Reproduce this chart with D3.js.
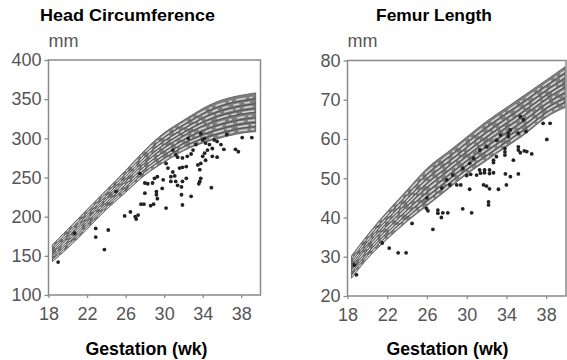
<!DOCTYPE html>
<html>
<head>
<meta charset="utf-8">
<script src="https://cdn.jsdelivr.net/npm/d3@7"></script>
<style>
  body { margin: 0; background: #fff; }
  svg { display: block; }
  text { font-family: "Liberation Sans", Arial, Helvetica, sans-serif; }
</style>
</head>
<body>
<div id="chart"></div>
<script>
// tick labels
const weekTicks = [18, 22, 26, 30, 34, 38];
const hcTicks = [100, 150, 200, 250, 300, 350, 400];
const flTicks = [20, 30, 40, 50, 60, 70, 80];

// head circumference reference band (mm)
const hcBandWeeks = [18.4, 20, 22, 24, 26, 28, 30, 32, 34, 36, 38, 39.5];
const hcUpper = [164, 184, 209, 234, 259, 285, 307, 323, 338, 349, 355, 358];
const hcLower = [142.5, 160, 184, 209, 231, 253, 269.5, 284, 294, 301, 306.5, 308.5];

// head circumference measurements [week, mm]
const hcPoints = [
  [19.0,142],[22.9,185],[24.2,183],[22.9,174],[23.8,158],[25.9,201],[26.5,206],[27.0,200],
  [27.3,202],[27.1,197],[27.6,216],[27.9,216],[28.6,214],[28.9,216],[28.0,230],[29.2,232],
  [29.2,228],[29.3,223],[30.2,211],[29.9,247],[29.8,236],[28.0,243],[28.3,242],[28.8,243],
  [29.0,249],[29.3,251],[30.7,251],[31.1,252],[31.2,245],[31.4,240],[31.8,238],[31.9,245],
  [30.9,257],[31.6,262],[31.9,263],[32.3,264],[31.8,228],[31.9,215],[32.8,226],[33.7,245],
  [33.6,242],[33.8,249],[33.5,266],[33.8,268],[33.7,260],[34.0,277],[34.2,281],[34.3,272],
  [34.5,285],[34.9,237],[35.0,287],[35.0,277],[35.5,276],[34.0,298],[34.2,300],[34.3,294],
  [34.7,292],[35.2,298],[35.5,296],[35.9,292],[36.2,286],[37.4,286],[37.7,283],[38.1,301],
  [39.1,301],[31.4,276],[31.9,275],[32.4,277],[32.8,280],[30.9,285],[31.2,279],[30.2,268],
  [30.4,262],[32.3,249],[33.3,292],[33.0,285],[30.7,245],[20.7,179],[25.0,232],[27.5,255],
  [32.5,300],[33.8,306],[36.5,305]
];

// femur length reference band (mm)
const flBandWeeks = [18.4, 20, 22, 24, 26, 28, 30, 32, 34, 36, 38, 39.9];
const flUpper = [30.2, 35.5, 41.5, 47, 52.5, 56.5, 60.5, 64.5, 68, 71.5, 75, 78.4];
const flLower = [24.5, 29.5, 34.5, 39, 43, 47, 51, 54.5, 58, 61.5, 65.5, 68];

// femur length measurements [week, mm]
const flPoints = [
  [18.9,25.4],[18.7,27.9],[22.2,32.2],[23.1,31.0],[23.9,31.0],[26.6,37.0],[25.95,42.3],[26.1,41.7],
  [27.1,41.9],[27.1,41.1],[27.6,41.2],[28.1,41.2],[27.45,40.0],[29.6,42.2],[30.5,41.2],[32.2,44.0],
  [32.2,43.2],[29.0,48.3],[29.4,48.3],[28.3,48.3],[30.3,47.2],[31.7,48.3],[32.0,48.0],[32.3,47.3],
  [33.2,47.2],[34.0,48.3],[30.0,50.7],[30.4,51.0],[31.0,50.8],[31.4,51.3],[31.8,51.4],[32.3,51.2],
  [32.7,51.4],[33.9,51.1],[34.4,50.4],[35.2,51.1],[31.3,52.1],[31.8,52.1],[32.3,52.1],[32.7,54.0],
  [33.0,55.5],[32.7,54.6],[34.7,54.6],[33.85,57.6],[33.85,56.7],[33.85,55.9],[35.2,58.0],[35.2,57.2],
  [35.4,56.5],[35.8,57.0],[36.05,56.8],[36.55,56.2],[35.98,61.9],[34.2,61.5],[34.2,60.6],[37.7,64.0],
  [38.4,64.0],[38.07,59.9],[31.33,57.2],[32.0,58.0],[33.0,59.7],[33.4,61.0],[34.4,62.3],[35.2,61.5],
  [35.4,65.7],[35.7,64.9],[30.7,55.1],[30.3,53.8],[29.6,52.5],[28.6,50.8],[28.0,49.6],[21.5,33.5],
  [24.5,38.5],[26.0,45.0],[27.5,47.5]
];

const width = 567;
const height = 360;

const svg = d3.select("#chart")
  .append("svg")
  .attr("width", width)
  .attr("height", height);

const defs = svg.append("defs");
defs.append("filter").attr("id", "soft")
  .append("feGaussianBlur").attr("stdDeviation", 0.45);

function drawPanel(opts) {
  const x = d3.scaleLinear().domain([18, 40]).range(opts.xRange);
  const y = d3.scaleLinear().domain(opts.yDomain).range(opts.yRange);
  const g = svg.append("g");

  const band = opts.bandWeeks.map((w, i) => ({wk: w, hi: opts.upper[i], lo: opts.lower[i]}));

  // band
  const area = d3.area()
    .x(d => x(d.wk))
    .y0(d => y(d.lo))
    .y1(d => y(d.hi))
    .curve(d3.curveNatural);

  const clipId = "clip-" + opts.id;
  defs.append("clipPath").attr("id", clipId)
    .append("path").attr("d", area(band));

  g.append("path")
    .attr("d", area(band))
    .attr("fill", "#7e7e7e");

  // streaky texture inside the band
  const streaks = g.append("g")
    .attr("clip-path", `url(#${clipId})`)
    .append("g")
    .attr("filter", "url(#soft)");
  const dashes = ["9 3 4 5", "5 6 11 3", "7 4", "3 5 8 4", "12 3 5 6", "4 4 9 3", "6 5", "10 4 3 4"];
  const fractions = [0.07, 0.18, 0.3, 0.42, 0.54, 0.66, 0.78, 0.9];
  fractions.forEach((t, i) => {
    const line = d3.line()
      .x(d => x(d.wk))
      .y(d => y(d.lo + t * (d.hi - d.lo)))
      .curve(d3.curveNatural);
    streaks.append("path")
      .attr("d", line(band))
      .attr("fill", "none")
      .attr("stroke", "#d6d6d6")
      .attr("stroke-width", 1.5)
      .attr("stroke-dasharray", dashes[i])
      .attr("stroke-dashoffset", i * 5);
  });
  [0.13, 0.24, 0.36, 0.5, 0.6, 0.72, 0.85].forEach(t => {
    const line = d3.line()
      .x(d => x(d.wk))
      .y(d => y(d.lo + t * (d.hi - d.lo)))
      .curve(d3.curveNatural);
    streaks.append("path")
      .attr("d", line(band))
      .attr("fill", "none")
      .attr("stroke", "#3c3c3c")
      .attr("stroke-width", 0.7);
  });

  g.append("path")
    .attr("d", area(band))
    .attr("fill", "none")
    .attr("stroke", "#5e5e5e")
    .attr("stroke-width", 0.9);

  // measurements
  g.selectAll("circle.pt")
    .data(opts.points)
    .enter()
    .append("circle")
    .attr("class", "pt")
    .attr("cx", d => x(d[0]))
    .attr("cy", d => y(d[1]))
    .attr("r", 1.9)
    .attr("fill", "#222");

  // frame
  const [x0, x1] = opts.xRange;
  const [yb, yt] = opts.yRange;
  g.append("rect")
    .attr("x", x0).attr("y", yt)
    .attr("width", x1 - x0).attr("height", yb - yt)
    .attr("fill", "none")
    .attr("stroke", "#8a8a8a")
    .attr("stroke-width", 1.5);

  const yAxis = g.append("g")
    .attr("transform", `translate(${x0},0)`)
    .call(d3.axisLeft(y).tickValues(opts.yTicks).tickSize(4).tickPadding(3));
  const xAxis = g.append("g")
    .attr("transform", `translate(0,${yb})`)
    .call(d3.axisBottom(x).tickValues(weekTicks).tickSize(3).tickPadding(9));

  [yAxis, xAxis].forEach(a => {
    a.attr("font-family", null);
    a.select(".domain").remove();
    a.selectAll(".tick line").attr("stroke", "#8a8a8a").attr("stroke-width", 1.3);
    a.selectAll(".tick text")
      .attr("fill", "#555")
      .style("font-size", "18px");
  });

  g.append("text")
    .attr("x", x0)
    .attr("y", 47)
    .attr("fill", "#555")
    .style("font-size", "18px")
    .text("mm");

  g.append("text")
    .attr("x", opts.titleX)
    .attr("y", 21)
    .attr("textLength", opts.titleLen)
    .attr("lengthAdjust", "spacingAndGlyphs")
    .style("font-size", "17px")
    .style("font-weight", "bold")
    .text(opts.title);

  g.append("text")
    .attr("x", opts.labelX)
    .attr("y", 355)
    .attr("textLength", 122)
    .attr("lengthAdjust", "spacingAndGlyphs")
    .style("font-size", "17.5px")
    .style("font-weight", "bold")
    .text("Gestation (wk)");
}

drawPanel({
  id: "hc",
  title: "Head Circumference",
  titleX: 40,
  titleLen: 175,
  labelX: 85.5,
  xRange: [48.5, 260.5],
  yDomain: [100, 400],
  yRange: [295, 60],
  yTicks: hcTicks,
  bandWeeks: hcBandWeeks,
  upper: hcUpper,
  lower: hcLower,
  points: hcPoints
});

drawPanel({
  id: "fl",
  title: "Femur Length",
  titleX: 376,
  titleLen: 116,
  labelX: 386.5,
  xRange: [347.5, 566],
  yDomain: [20, 80],
  yRange: [296, 60.5],
  yTicks: flTicks,
  bandWeeks: flBandWeeks,
  upper: flUpper,
  lower: flLower,
  points: flPoints
});
</script>
</body>
</html>
